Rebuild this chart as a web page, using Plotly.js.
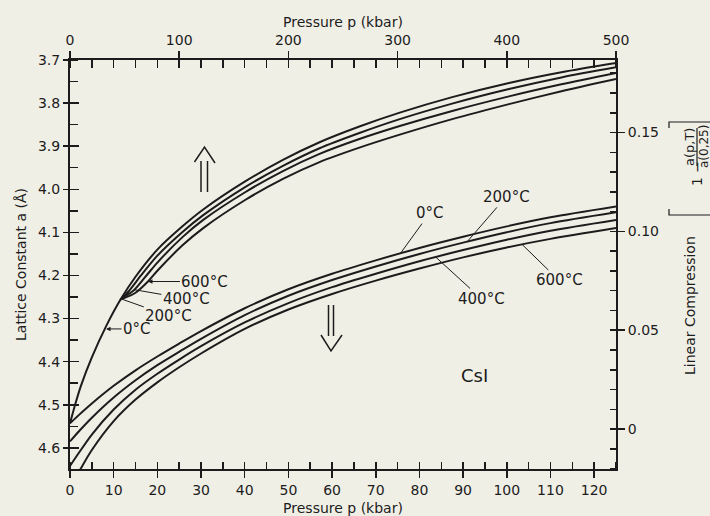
<!DOCTYPE html>
<html>
<head>
<meta charset="utf-8">
<script src="https://cdn.plot.ly/plotly-3.0.1.min.js"></script>
<style>html,body{margin:0;padding:0;background:#f0efe6;}</style>
</head>
<body>
<div id="chart" style="width:710px;height:516px;"></div>
<script>
// ---- data ----
// lower family: bottom pressure axis (0-125 kbar), lattice constant (Å)
const pLow = [0, 2, 5, 10, 15, 20, 25, 30, 40, 50, 60, 70, 80, 90, 100, 110, 125];
const aLow0   = [4.543, 4.524, 4.497, 4.456, 4.420, 4.388, 4.358, 4.329, 4.276, 4.232, 4.196, 4.165, 4.136, 4.110, 4.086, 4.065, 4.040];
const aLow200 = [4.585, 4.562, 4.530, 4.483, 4.443, 4.408, 4.377, 4.347, 4.292, 4.247, 4.2105, 4.179, 4.150, 4.1237, 4.0995, 4.0785, 4.0535];
const aLow400 = [4.642, 4.612, 4.569, 4.511, 4.465, 4.428, 4.395, 4.364, 4.309, 4.264, 4.227, 4.196, 4.167, 4.141, 4.117, 4.096, 4.071];
const aLow600 = [4.690, 4.656, 4.605, 4.538, 4.488, 4.448, 4.413, 4.381, 4.324, 4.279, 4.243, 4.212, 4.184, 4.158, 4.135, 4.115, 4.090];

// upper family: top pressure axis (0-500 kbar)
const pUp0   = [0, 5, 10, 20, 33, 46, 60, 80, 103, 122, 160, 195, 228, 265, 302, 350, 402, 450, 500];
const aUp0   = [4.543, 4.497, 4.456, 4.390, 4.318, 4.257, 4.203, 4.140, 4.086, 4.047, 3.9824, 3.9317, 3.8914, 3.8544, 3.8222, 3.7862, 3.7534, 3.7284, 3.707];
const pUp200 = [46, 54, 65, 80, 103, 122, 160, 195, 228, 265, 302, 350, 402, 450, 500];
const aUp200 = [4.257, 4.236, 4.200, 4.154, 4.099, 4.060, 3.9954, 3.9457, 3.9054, 3.8694, 3.8372, 3.8012, 3.7674, 3.7404, 3.717];
const pUp400 = [47, 59, 70, 80, 103, 122, 160, 195, 228, 265, 302, 350, 402, 450, 500];
const aUp400 = [4.254, 4.233, 4.200, 4.170, 4.111, 4.071, 4.0074, 3.9577, 3.9184, 3.8834, 3.8532, 3.8182, 3.7844, 3.7564, 3.730];
const pUp600 = [48, 60, 71.4, 80, 103, 122, 160, 195, 228, 265, 302, 350, 402, 450, 500];
const aUp600 = [4.254, 4.240, 4.214, 4.189, 4.130, 4.090, 4.0254, 3.9757, 3.9374, 3.9034, 3.8732, 3.8372, 3.8024, 3.7724, 3.744];

// ticks
const latticeTicks = [3.7, 3.8, 3.9, 4.0, 4.1, 4.2, 4.3, 4.4, 4.5, 4.6];
const compTicks = [0, 0.05, 0.10, 0.15];
const compTickText = ['0', '0.05', '0.10', '0.15'];
const tempLabels = ['0°C', '200°C', '400°C', '600°C'];

// ---- style ----
const BG = '#f0efe6';
const INK = '#1c1c1c';
const FONT = 'DejaVu Sans, sans-serif';
const PL = 70, PR = 616, PT = 60, PB = 469;
const fx = px => (px - PL) / (PR - PL);
const fy = py => (PB - py) / (PB - PT);

function line(x, y, xa, ya) {
  return {x: x, y: y, xaxis: xa, yaxis: ya, type: 'scatter', mode: 'lines',
          line: {color: INK, width: 2, shape: 'spline', smoothing: 0.8}, hoverinfo: 'skip'};
}
// empty helper traces so the overlay axes get drawn
function holder(xa, ya) {
  return {x: [], y: [], xaxis: xa, yaxis: ya, type: 'scatter', mode: 'lines', hoverinfo: 'skip'};
}
const data = [
  line(pLow, aLow0, 'x', 'y'), line(pLow, aLow200, 'x', 'y'),
  line(pLow, aLow400, 'x', 'y'), line(pLow, aLow600, 'x', 'y'),
  line(pUp0, aUp0, 'x2', 'y'), line(pUp200, aUp200, 'x2', 'y'),
  line(pUp400, aUp400, 'x2', 'y'), line(pUp600, aUp600, 'x2', 'y'),
  holder('x', 'y2'), holder('x', 'y4'), holder('x3', 'y'), holder('x4', 'y'), holder('x', 'y3')
];

const tickStyle = {tickcolor: INK, tickwidth: 1.5, showgrid: false, zeroline: false,
                   tickfont: {family: FONT, size: 14, color: INK}};
const layout = {
  width: 710, height: 516,
  paper_bgcolor: BG, plot_bgcolor: BG,
  margin: {l: PL, r: 710 - PR, t: PT, b: 516 - PB, pad: 0},
  showlegend: false,
  font: {family: FONT, size: 14, color: INK},
  xaxis: Object.assign({range: [0, 125], tickmode: 'linear', tick0: 0, dtick: 10,
    ticks: 'outside', ticklen: 7, showline: true, linewidth: 2, linecolor: INK,
    minor: {tick0: 0, dtick: 5, ticks: 'inside', ticklen: 7, tickwidth: 1.5, tickcolor: INK, showgrid: false},
    title: {text: 'Pressure p (kbar)', font: {family: FONT, size: 14, color: INK}, standoff: 8}}, tickStyle),
  xaxis2: Object.assign({range: [0, 500], overlaying: 'x', side: 'top', anchor: 'y',
    tickmode: 'linear', tick0: 0, dtick: 100, ticks: 'outside', ticklen: 7,
    showline: true, linewidth: 2, linecolor: INK,
    minor: {tick0: 0, dtick: 20, ticks: 'inside', ticklen: 8, tickwidth: 1.5, tickcolor: INK, showgrid: false},
    title: {text: 'Pressure p (kbar)', font: {family: FONT, size: 14, color: INK}, standoff: 2}}, tickStyle),
  xaxis3: Object.assign({range: [0, 125], overlaying: 'x', side: 'bottom', anchor: 'y',
    tickmode: 'linear', tick0: 0, dtick: 10, ticks: 'inside', ticklen: 7,
    showticklabels: false, showline: false}, tickStyle),
  xaxis4: Object.assign({range: [0, 500], overlaying: 'x', side: 'top', anchor: 'y',
    tickmode: 'linear', tick0: 0, dtick: 100, ticks: 'inside', ticklen: 8,
    showticklabels: false, showline: false}, tickStyle),
  yaxis: Object.assign({range: [4.649, 3.7], tickmode: 'array', tickvals: latticeTicks,
    tickformat: '.1f', ticks: 'outside', ticklen: 5, showline: true, linewidth: 2, linecolor: INK,
    minor: {tick0: 3.7, dtick: 0.05, ticks: 'inside', ticklen: 8, tickwidth: 1.5, tickcolor: INK, showgrid: false},
    title: {text: 'Lattice Constant a (Å)', font: {family: FONT, size: 14, color: INK}, standoff: 8}}, tickStyle),
  yaxis2: Object.assign({range: [-0.0202, 0.1867], overlaying: 'y', side: 'right', anchor: 'x',
    tickmode: 'array', tickvals: compTicks, ticktext: compTickText, ticks: 'outside', ticklen: 7,
    showline: true, linewidth: 2, linecolor: INK,
    minor: {tick0: 0, dtick: 0.01, ticks: 'inside', ticklen: 6, tickwidth: 1.5, tickcolor: INK, showgrid: false}}, tickStyle),
  yaxis3: Object.assign({range: [4.649, 3.7], overlaying: 'y', side: 'left', anchor: 'x',
    tickmode: 'array', tickvals: latticeTicks, ticks: 'inside', ticklen: 9,
    showticklabels: false, showline: false}, tickStyle),
  yaxis4: Object.assign({range: [-0.0202, 0.1867], overlaying: 'y', side: 'right', anchor: 'x',
    tickmode: 'array', tickvals: compTicks, ticks: 'inside', ticklen: 6,
    showticklabels: false, showline: false}, tickStyle),
  annotations: [],
  shapes: []
};

const LF = {family: FONT, size: 15, color: INK};
function lab(text, x, y, xref, ax, ay, head) {
  return {text: text, x: x, y: y, xref: xref, yref: 'y', ax: ax, ay: ay, showarrow: true,
          arrowhead: head ? 2 : 0, arrowsize: 0.9, arrowwidth: 1, arrowcolor: INK, standoff: 0,
          font: LF};
}
// upper family labels (top axis)
layout.annotations.push(lab(tempLabels[0], 33, 4.324, 'x2', 31, 0, true));
layout.annotations.push(lab(tempLabels[1], 46.5, 4.254, 'x2', 48, 17, false));
layout.annotations.push(lab(tempLabels[2], 59, 4.233, 'x2', 52, 9, false));
layout.annotations.push(lab(tempLabels[3], 71.4, 4.214, 'x2', 57, 0, true));
// lower family labels (bottom axis)
layout.annotations.push(lab(tempLabels[0], 75.7, 4.148, 'x', 29, -40, false));
layout.annotations.push(lab(tempLabels[1], 90.9, 4.122, 'x', 39, -45, false));
layout.annotations.push(lab(tempLabels[2], 83.7, 4.157, 'x', 46, 42, false));
layout.annotations.push(lab(tempLabels[3], 103.5, 4.128, 'x', 37, 36, false));

// CsI
layout.annotations.push({text: 'CsI', xref: 'paper', yref: 'paper', x: fx(490), y: fy(388),
  showarrow: false, font: {family: FONT, size: 18, color: INK}});

// right side title (rotated)
const rot = (text, px, py, size) => ({text: text, xref: 'paper', yref: 'paper', x: fx(px), y: fy(py),
  textangle: -90, showarrow: false, xanchor: 'center', yanchor: 'middle', font: {family: FONT, size: size, color: INK}});
layout.annotations.push(rot('Linear Compression', 690, 306, 14));
layout.annotations.push(rot('1 −', 697, 174, 14));
layout.annotations.push(rot('a(p,T)', 689, 147, 13));
layout.annotations.push(rot('a(0,25)', 704, 147, 12));

const sp = (path, w) => ({type: 'path', xref: 'paper', yref: 'paper', path: path,
  line: {color: INK, width: w || 1.5}, layer: 'above'});
const P = (px, py) => fx(px).toFixed(5) + ',' + fy(py).toFixed(5);
// fraction bar and brackets
layout.shapes.push(sp('M' + P(697, 128) + ' L' + P(697, 166), 1.2));
layout.shapes.push(sp('M' + P(669, 128) + ' L' + P(669, 122) + ' L' + P(712, 122), 1.2));
layout.shapes.push(sp('M' + P(669, 209) + ' L' + P(669, 215) + ' L' + P(712, 215), 1.2));
// up arrow (top-axis family)
layout.shapes.push(sp('M' + P(201, 161) + ' L' + P(201, 192)));
layout.shapes.push(sp('M' + P(207.5, 161) + ' L' + P(207.5, 192)));
layout.shapes.push(sp('M' + P(194.5, 162) + ' L' + P(204.5, 147) + ' L' + P(215, 163)));
// down arrow (bottom-axis family)
layout.shapes.push(sp('M' + P(328.5, 305) + ' L' + P(328.5, 336)));
layout.shapes.push(sp('M' + P(333.5, 305) + ' L' + P(333.5, 336)));
layout.shapes.push(sp('M' + P(321, 335) + ' L' + P(331, 351) + ' L' + P(342, 335)));

Plotly.newPlot('chart', data, layout, {staticPlot: true, displayModeBar: false});
</script>
</body>
</html>
